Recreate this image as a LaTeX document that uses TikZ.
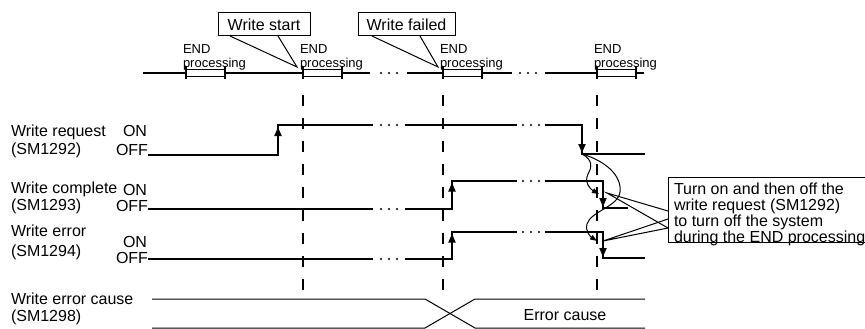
\documentclass[tikz,border=0pt]{standalone}
\usepackage{fontspec}
\setmainfont{Liberation Sans}
\usetikzlibrary{arrows.meta, calc}

\begin{document}
\begin{tikzpicture}[
    x=1pt, y=-1pt,
    every node/.style={font=\fontsize{16}{17}\selectfont, inner sep=0pt, outer sep=0pt},
    signame/.style={anchor=base west},
    onoff/.style={anchor=base east},
    endtext/.style={font=\fontsize{13}{14}\selectfont, anchor=base west},
    callbox/.style={
      rectangle, draw=black, fill=white, line width=1pt,
      minimum height=23pt
    },
    notebox/.style={
      rectangle, draw=black, fill=white, line width=1pt,
      anchor=north west, minimum width=230pt, minimum height=65pt
    },
    endbox/.style={
      rectangle, draw=black, fill=white, line width=1.3pt,
      minimum width=38.5pt, minimum height=7pt, anchor=west
    },
    endtick/.style={line width=2pt},
    timeline/.style={line width=1.3pt},
    scanline/.style={line width=2.6pt, dash pattern=on 11pt off 12pt},
    wave/.style={line width=1.8pt},
    edgearr/.style={line width=1.8pt, -{Triangle[length=9pt, width=7pt]}},
    pointer/.style={line width=1pt},
    curvearr/.style={line width=1pt, -{Triangle[length=7pt, width=5pt]}},
    cause/.style={line width=1pt}
  ]
  \useasboundingbox (0,0) rectangle (865,329);

  % END processing cycles
  \foreach \x in {303,443,597} {
    \draw[scanline] (\x,95) -- (\x,298);
  }
  \draw[timeline] (143,73) -- (370,73);
  \draw[timeline] (407,73) -- (512,73);
  \draw[timeline] (545,73) -- (644,73);
  \foreach \x [count=\i] in {186,303,443,597} {
    \node[endbox] (end\i) at (\x,73) {};
    \draw[endtick] ([yshift=6.5pt]end\i.west) -- ([yshift=-6.5pt]end\i.west);
    \draw[endtick] ([yshift=6.5pt]end\i.east) -- ([yshift=-6.5pt]end\i.east);
    \node[endtext] (endtop\i) at (\x-3,54) {END};
    \node[endtext] (endbot\i) at (\x-3,67.5) {processing};
  }

  % callouts on the cycles
  \node[callbox, minimum width=92pt] (wstart) at (264,24.5) {Write start};
  \node[callbox, minimum width=97pt] (wfail) at (406.5,24.5) {Write failed};
  \coordinate (starttip) at (297,67);
  \coordinate (failtip) at (438,67);
  \draw[pointer] ([xshift=-34pt]wstart.south) -- (starttip) -- ([xshift=14pt]wstart.south);
  \draw[pointer] ([xshift=-34.5pt]wfail.south) -- (failtip) -- ([xshift=13.5pt]wfail.south);

  % signal names
  \node[signame] (reqname) at (11,136) {Write request};
  \node[signame] (reqid) at (11,154.5) {(SM1292)};
  \node[signame] (cplname) at (11,193) {Write complete};
  \node[signame] (cplid) at (11,210) {(SM1293)};
  \node[signame] (errname) at (11,236) {Write error};
  \node[signame] (errid) at (11,256.5) {(SM1294)};
  \node[signame] (causename) at (11,304) {Write error cause};
  \node[signame] (causeid) at (11,321) {(SM1298)};

  \node[onoff] (reqon) at (147,136) {ON};
  \node[onoff] (reqoff) at (148,155) {OFF};
  \node[onoff] (cplon) at (147,195) {ON};
  \node[onoff] (cploff) at (148,211) {OFF};
  \node[onoff] (erron) at (147,247) {ON};
  \node[onoff] (erroff) at (148,263) {OFF};

  % gaps in the lines
  \foreach \x/\y in {389/73,389/125,389/209,389/259,528/73,531/125,531/181,531/232} {
    \foreach \d in {-8,0,8}
      \fill (\x+\d,\y) circle (1.1pt);
  }

  % write request
  \draw[wave] (reqoff.base east) -- (278,155) -- (278,125) -- (373,125);
  \draw[wave] (405,125) -- (517,125);
  \draw[wave] (545,125) -- (582,125) -- (582,154) -- (645,154);
  \draw[edgearr] (278,150) -- (278,127);
  \draw[edgearr] (582,130) -- (582,153);

  % write complete
  \draw[wave] (cploff.east |- 0,209) -- (373,209);
  \draw[wave] (405,209) -- (452,209) -- (452,181) -- (517,181);
  \draw[wave] (545,181) -- (603,181) -- (603,208) -- (628,208);
  \draw[edgearr] (452,205) -- (452,182.5);
  \draw[edgearr] (603,186) -- (603,207);

  % write error
  \draw[wave] (erroff.east |- 0,259) -- (373,259);
  \draw[wave] (405,259) -- (452,259) -- (452,232) -- (517,232);
  \draw[wave] (545,232) -- (603,232) -- (603,258) -- (645,258);
  \draw[edgearr] (452,255) -- (452,233.5);
  \draw[edgearr] (603,237) -- (603,257);

  % write error cause
  \draw[cause] (152,299) -- (425,299) -- (475,328) -- (645,328);
  \draw[cause] (152,328) -- (425,328) -- (475,299) -- (645,299);
  \node[anchor=base] (causetext) at (565,320) {Error cause};

  % turning off the request
  \coordinate (reqfall) at (582,154);
  \draw[curvearr] (reqfall) .. controls (593,160) and (592,167) .. (588,174)
    .. controls (584,182) and (590,189) .. (599,194);
  \draw[curvearr] (reqfall) .. controls (606,161) and (622,176) .. (620,192)
    .. controls (618,207) and (591,211) .. (587,224)
    .. controls (585,232) and (591,237) .. (597,241);

  \node[notebox] (note) at (668,177) {};
  \foreach \t [count=\i] in {Turn on and then off the, write request (SM1292),
      to turn off the system, during the END processing} {
    \node[anchor=base west] (note\i) at (674,178.5+16*\i) {\t};
  }
  \coordinate (cpltip) at (607,193);
  \coordinate (errtip) at (603,241);
  \draw[pointer] ($(note.north west)+(0,34)$) -- (cpltip) -- ($(note.north west)+(0,51)$);
  \draw[pointer] ($(note.north west)+(0,42)$) -- (errtip) -- ($(note.north west)+(0,51)$);
\end{tikzpicture}
\end{document}
